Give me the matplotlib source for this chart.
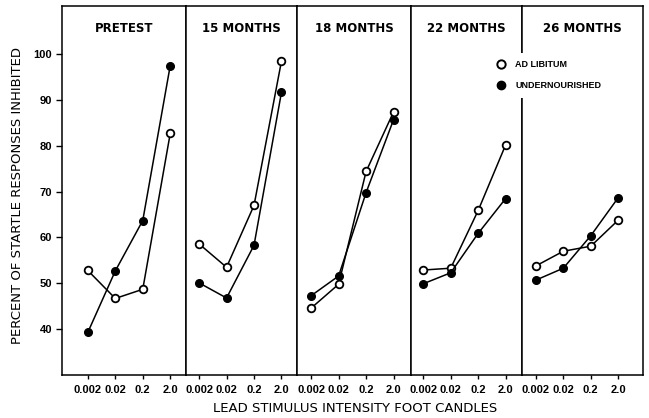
import numpy as np
import matplotlib
matplotlib.use("Agg")
import matplotlib.pyplot as plt
from matplotlib.lines import Line2D

plt.rcParams["font.family"] = ["Liberation Sans", "DejaVu Sans"]

# ── Data ───────────────────────────────────────────────────
intensities = ["0.002", "0.02", "0.2", "2.0"]
panels = ["PRETEST", "15 MONTHS", "18 MONTHS", "22 MONTHS", "26 MONTHS"]

ad_libitum = [
    [52.8, 46.7, 48.7, 82.7],
    [58.6, 53.5, 67.0, 98.5],
    [44.6, 49.8, 74.4, 87.4],
    [52.9, 53.3, 65.9, 80.2],
    [53.8, 57.0, 58.1, 63.8],
]
undernourished = [
    [39.3, 52.7, 63.7, 97.5],
    [50.1, 46.8, 58.3, 91.7],
    [47.3, 51.6, 69.8, 85.7],
    [49.9, 52.3, 60.9, 68.5],
    [50.7, 53.3, 60.4, 68.7],
]
y_ticks = [40, 50, 60, 70, 80, 90, 100]

# ── Layout ─────────────────────────────────────────────────
xlims = [(-0.94, 3.58), (-0.47, 3.58), (-0.5, 3.65), (-0.43, 3.6), (-0.5, 3.9)]
spans = [b - a for a, b in xlims]

fig = plt.figure(figsize=(6.49, 4.18), dpi=100)
gs = fig.add_gridspec(1, 5, width_ratios=spans, wspace=0,
                      left=62/649, right=643/649, top=1-6/418, bottom=1-375/418)

x = np.arange(len(intensities))
for i, name in enumerate(panels):
    ax = fig.add_subplot(gs[0, i])
    ax.plot(x, ad_libitum[i], "-o", color="black", lw=1.1, ms=5.5,
            mfc="white", mec="black", mew=1.3, zorder=3)
    ax.plot(x, undernourished[i], "-o", color="black", lw=1.1, ms=5.5,
            mfc="black", mec="black", zorder=3)
    ax.set_xlim(*xlims[i])
    ax.set_ylim(30, 110.5)
    ax.set_xticks(x)
    ax.set_xticklabels(intensities, fontsize=8, fontweight="bold")
    ax.tick_params(axis="x", length=3, width=1, pad=4)
    for s in ax.spines.values():
        s.set_linewidth(1.1)
    if i == 0:
        ax.set_yticks(y_ticks)
        ax.set_yticklabels([str(t) for t in y_ticks], fontsize=8, fontweight="bold")
        ax.tick_params(axis="y", length=4, width=1, pad=3)
    else:
        ax.set_yticks([])
    ax.text(0.5, 0.94, name, transform=ax.transAxes, ha="center", va="center",
            fontsize=8.5, fontweight="bold", family="DejaVu Sans")

handles = [
    Line2D([], [], ls="", marker="o", ms=6, mfc="white", mec="black", mew=1.4),
    Line2D([], [], ls="", marker="o", ms=6, mfc="black", mec="black"),
]
fig.legend(handles, ["AD LIBITUM", "UNDERNOURISHED"], loc="upper left",
           bbox_to_anchor=(480/649, 1-48/418), frameon=True, facecolor="white",
           edgecolor="none", framealpha=1, handletextpad=0.6, labelspacing=1.4,
           prop={"size": 6.5, "weight": "bold"}, borderpad=0.8)

fig.text(18/649, 1-195/418, "PERCENT OF STARTLE RESPONSES INHIBITED", rotation=90,
         ha="center", va="center", fontsize=9.5, family="DejaVu Sans")
fig.text(355/649, 1-408/418, "LEAD STIMULUS INTENSITY FOOT CANDLES",
         ha="center", va="center", fontsize=9.5, family="DejaVu Sans")

fig.savefig("out.png", dpi=100)
plt.close()
